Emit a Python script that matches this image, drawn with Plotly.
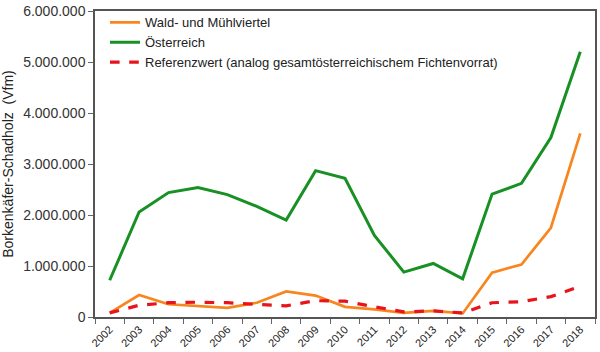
import plotly.graph_objects as go

years = [str(y) for y in range(2002, 2019)]
wald = [80000, 430000, 250000, 220000, 180000, 280000, 500000, 420000, 200000, 150000, 80000, 120000, 70000, 870000, 1030000, 1750000, 3600000]
oesterreich = [720000, 2060000, 2440000, 2540000, 2400000, 2170000, 1900000, 2870000, 2720000, 1600000, 880000, 1050000, 750000, 2410000, 2620000, 3520000, 5200000]
referenz = [80000, 230000, 280000, 290000, 280000, 250000, 220000, 320000, 310000, 200000, 100000, 120000, 80000, 280000, 300000, 400000, 600000]
yticks = [0, 1000000, 2000000, 3000000, 4000000, 5000000, 6000000]

fig = go.Figure()
fig.add_trace(go.Scatter(x=years, y=wald, mode="lines", name="Wald- und Mühlviertel",
                         line=dict(color="#f7861f", width=2.7)))
fig.add_trace(go.Scatter(x=years, y=oesterreich, mode="lines", name="Österreich",
                         line=dict(color="#179024", width=3)))
fig.add_trace(go.Scatter(x=years, y=referenz, mode="lines",
                         name="Referenzwert (analog gesamtösterreichischem Fichtenvorrat)",
                         line=dict(color="#e8141b", width=3.2, dash="dash")))

fig.update_layout(
    width=600, height=352,
    margin=dict(l=95, r=3, t=9, b=35),
    paper_bgcolor="white", plot_bgcolor="white",
    separators=",.",
    font=dict(family="Liberation Sans, Arial, sans-serif", color="#333333"),
    legend=dict(x=0.02, y=1.012, xanchor="left", yanchor="top", bgcolor="rgba(0,0,0,0)",
                font=dict(size=13, color="#222222"), tracegroupgap=0, itemwidth=30),
    showlegend=True,
)
fig.update_xaxes(type="category", range=[-0.5, 16.5], tickangle=-45, tickfont=dict(size=11, color="#222"),
                 ticks="outside", tickson="boundaries", ticklen=5, tickcolor="#666",
                 showline=True, linecolor="#555", linewidth=1.5, mirror=True,
                 showgrid=False)
fig.update_yaxes(range=[0, 6000000], tickvals=yticks, tickformat=",d",
                 tickfont=dict(size=14, color="#333"), ticklabeloverflow="allow",
                 ticks="outside", ticklen=5, tickcolor="#666",
                 showline=True, linecolor="#555", linewidth=1.5, mirror=True,
                 showgrid=False, zeroline=False,
                 title=dict(text="Borkenkäfer-Schadholz  (Vfm)", font=dict(size=14, color="#222"), standoff=6))

fig.write_html("out.html")
